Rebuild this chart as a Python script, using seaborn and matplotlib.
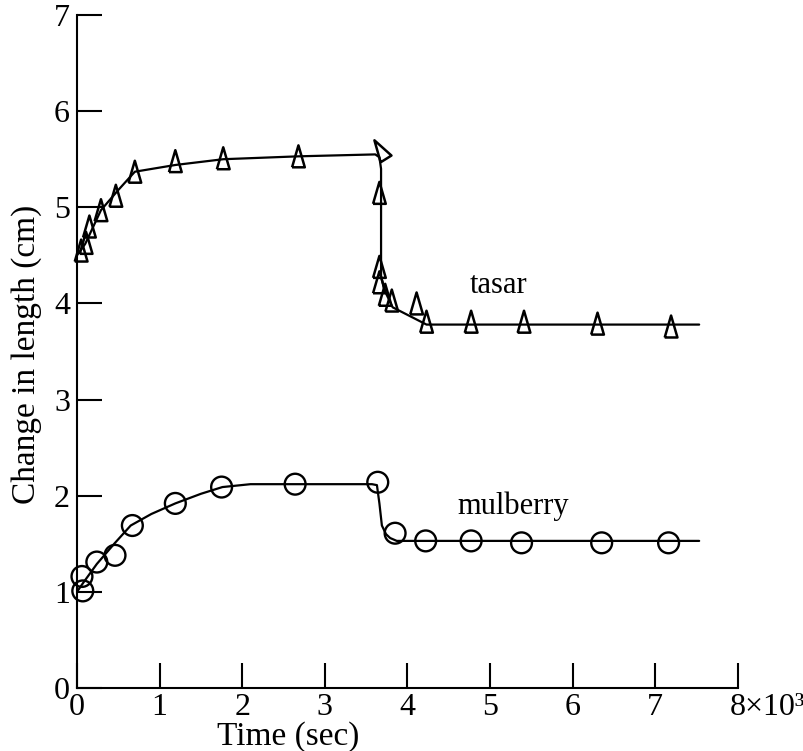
import numpy as np
import pandas as pd
import matplotlib
matplotlib.use("Agg")
import matplotlib.pyplot as plt
from matplotlib.markers import MarkerStyle
from matplotlib.transforms import Affine2D, ScaledTranslation
import seaborn as sns

# ---------------- data ----------------
# tasar measured points (triangles), time in 10^3 s, change in length in cm
tasar_x = [0.05, 0.11, 0.15, 0.29, 0.47, 0.70, 1.19, 1.77, 2.68,
           3.66, 3.66, 3.66, 3.73, 3.81, 4.11, 4.23, 4.77, 5.41, 6.30, 7.19]
tasar_y = [4.55, 4.63, 4.80, 4.97, 5.12, 5.37, 5.48, 5.51, 5.53,
           5.15, 4.38, 4.22, 4.09, 4.03, 4.00, 3.81, 3.81, 3.81, 3.79, 3.76]
# the turned-over triangle at the top of the drop
tasar_peak_x = [3.67]
tasar_peak_y = [5.60]
# tasar fitted curve
tasar_fit_x = [0.0, 0.10, 0.29, 0.50, 0.70, 1.19, 1.77, 2.68, 3.61,
               3.66, 3.68, 3.68, 3.72, 3.82, 4.23, 7.53]
tasar_fit_y = [4.50, 4.62, 4.97, 5.18, 5.37, 5.44, 5.50, 5.53, 5.55,
               5.52, 5.40, 4.28, 4.14, 3.96, 3.78, 3.78]

# mulberry measured points (circles)
mulberry_x = [0.07, 0.06, 0.24, 0.46, 0.67, 1.19, 1.75, 2.64, 3.64,
              3.85, 4.22, 4.77, 5.38, 6.35, 7.16]
mulberry_y = [1.01, 1.16, 1.31, 1.38, 1.69, 1.92, 2.09, 2.12, 2.14,
              1.61, 1.53, 1.53, 1.51, 1.51, 1.51]
# mulberry fitted curve
mulberry_fit_x = [0.0, 0.08, 0.24, 0.45, 0.65, 0.90, 1.19, 1.50, 1.76,
                  2.10, 3.57, 3.63, 3.66, 3.69, 3.74, 3.79, 3.87, 7.53]
mulberry_fit_y = [1.00, 1.10, 1.29, 1.50, 1.69, 1.81, 1.92, 2.02, 2.09,
                  2.12, 2.12, 2.11, 1.92, 1.69, 1.60, 1.56, 1.53, 1.53]

x_ticks = [0, 1, 2, 3, 4, 5, 6, 7, 8]
x_tick_labels = ["0", "1", "2", "3", "4", "5", "6", "7", "8×10³"]
y_ticks = [0, 1, 2, 3, 4, 5, 6, 7]
y_tick_labels = ["0", "1", "2", "3", "4", "5", "6", "7"]

x_label = "Time (sec)"
y_label = "Change in length (cm)"
series_labels = ["tasar", "mulberry"]
label_pos_x = [5.10, 5.28]
label_pos_y = [4.19, 1.89]

# ---------------- style ----------------
sns.set_style("ticks")
plt.rcParams["font.family"] = ["Liberation Serif", "DejaVu Serif"]
plt.rcParams["axes.linewidth"] = 1.5
plt.rcParams["text.color"] = "black"
plt.rcParams["axes.labelcolor"] = "black"
plt.rcParams["xtick.color"] = "black"
plt.rcParams["ytick.color"] = "black"
plt.rcParams["axes.edgecolor"] = "black"

fig = plt.figure(figsize=(8.04, 7.51), dpi=100)
ax = fig.add_axes([77 / 804, 63 / 751, (738 - 77) / 804, (688 - 15) / 751])

# fitted curves
sns.lineplot(x=tasar_fit_x, y=tasar_fit_y, sort=False, estimator=None,
             color="black", lw=1.6, ax=ax)
sns.lineplot(x=mulberry_fit_x, y=mulberry_fit_y, sort=False, estimator=None,
             color="black", lw=1.6, ax=ax)

# tall narrow triangle marker
tri_verts = [(-0.29, -0.5), (0.29, -0.5), (0.0, 0.5), (-0.29, -0.5)]
tri = MarkerStyle(tri_verts)
tri_turned = MarkerStyle(tri_verts, transform=Affine2D().rotate_deg(32))

sns.scatterplot(x=tasar_x, y=tasar_y, marker=tri, s=250,
                color="black", facecolor="none", edgecolor="black",
                linewidth=1.8, clip_on=False, zorder=3, ax=ax)
sns.scatterplot(x=tasar_peak_x, y=tasar_peak_y, marker=tri_turned, s=250,
                color="black", facecolor="none", edgecolor="black",
                linewidth=1.8, clip_on=False, zorder=3, ax=ax)
sns.scatterplot(x=mulberry_x, y=mulberry_y, marker="o", s=225,
                color="black", facecolor="none", edgecolor="black",
                linewidth=1.7, clip_on=False, zorder=3, ax=ax)

# series labels
for lab, lx, ly in zip(series_labels, label_pos_x, label_pos_y):
    ax.text(lx, ly, lab, fontsize=22, ha="center", va="center", color="black")

# axes
ax.set_xlim(0, 8)
ax.set_ylim(0, 7)
sns.despine(ax=ax)
ax.set_xticks(x_ticks)
ax.set_xticklabels(x_tick_labels, fontsize=23, color="black")
ax.set_yticks(y_ticks)
ax.set_yticklabels(y_tick_labels, fontsize=23, color="black")
ax.tick_params(axis="both", direction="in", length=18, width=1.5, color="black",
               labelcolor="black")
ax.tick_params(axis="x", pad=3.5)
ax.tick_params(axis="y", pad=5)

last = ax.get_xticklabels()[-1]
last.set_ha("left")
last.set_transform(last.get_transform() + ScaledTranslation(-8 / 100, 0, fig.dpi_scale_trans))

ax.set_xlabel(x_label, fontsize=24, va="center", color="black")
ax.xaxis.set_label_coords(0.32, -0.072)
ax.set_ylabel(y_label, fontsize=24, va="center", color="black")
ax.yaxis.set_label_coords(-0.076, 0.496)

fig.savefig("out.png", dpi=100, facecolor="white")
